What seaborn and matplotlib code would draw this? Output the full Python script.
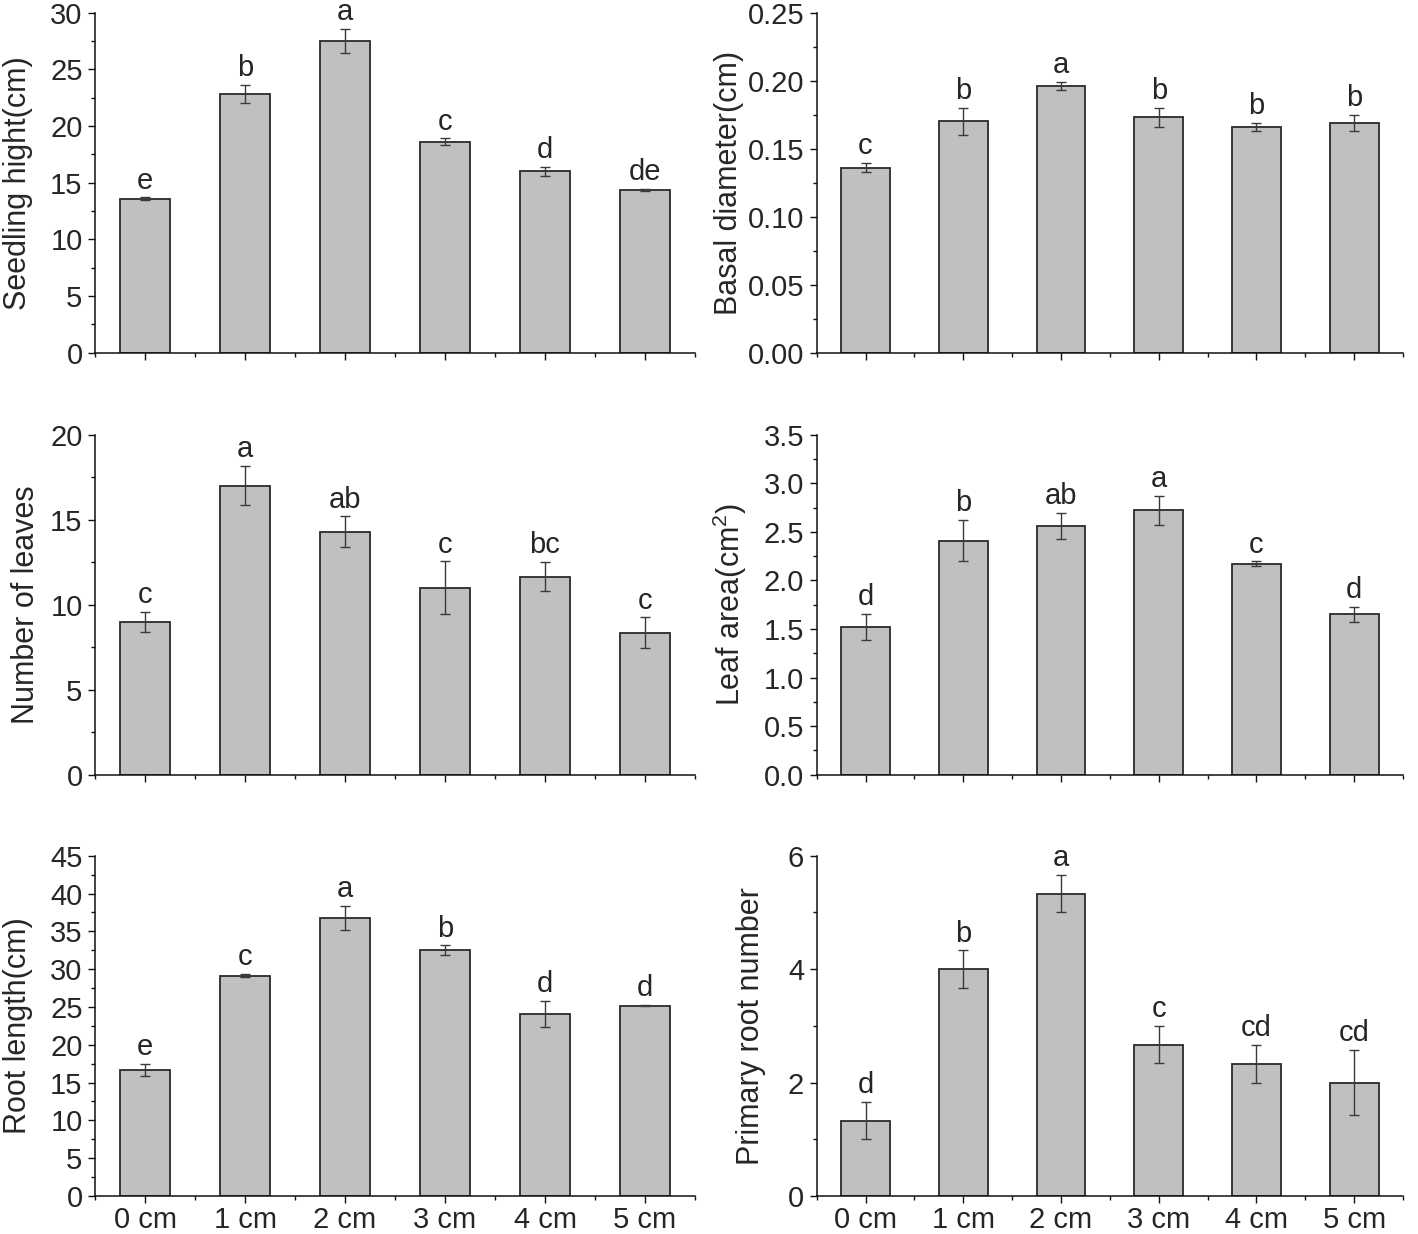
import numpy as np
import pandas as pd
import matplotlib
matplotlib.use("Agg")
import matplotlib.pyplot as plt
from matplotlib.ticker import MultipleLocator, FixedLocator
import seaborn as sns

# depth treatments
depths = ["0 cm", "1 cm", "2 cm", "3 cm", "4 cm", "5 cm"]

# seedling height
height_mean = [13.6, 22.8, 27.5, 18.6, 16.0, 14.35]
height_err = [0.1, 0.8, 1.05, 0.3, 0.4, 0.1]
height_sig = ["e", "b", "a", "c", "d", "de"]

# basal diameter
diam_mean = [0.136, 0.170, 0.196, 0.173, 0.166, 0.169]
diam_err = [0.0035, 0.010, 0.003, 0.007, 0.003, 0.006]
diam_sig = ["c", "b", "a", "b", "b", "b"]

# number of leaves
leaves_mean = [9.0, 17.0, 14.3, 11.0, 11.65, 8.35]
leaves_err = [0.58, 1.16, 0.89, 1.55, 0.85, 0.9]
leaves_sig = ["c", "a", "ab", "c", "bc", "c"]

# leaf area
area_mean = [1.52, 2.41, 2.56, 2.72, 2.17, 1.65]
area_err = [0.134, 0.21, 0.135, 0.147, 0.025, 0.077]
area_sig = ["d", "b", "ab", "a", "c", "d"]

# root length
root_mean = [16.66, 29.13, 36.76, 32.53, 24.07, 25.17]
root_err = [0.83, 0.2, 1.59, 0.6, 1.76, 0.1]
root_sig = ["e", "c", "a", "b", "d", "d"]

# primary root number
nroot_mean = [1.33, 4.0, 5.33, 2.67, 2.33, 2.0]
nroot_err = [0.33, 0.33, 0.33, 0.33, 0.33, 0.58]
nroot_sig = ["d", "b", "a", "c", "cd", "cd"]

sns.set_style("ticks")
plt.rcParams["font.family"] = ["Liberation Sans", "DejaVu Sans"]
plt.rcParams["mathtext.fontset"] = "custom"
plt.rcParams["mathtext.rm"] = "Liberation Sans"
plt.rcParams["mathtext.it"] = "Liberation Sans"

fig = plt.figure(figsize=(14.18, 12.34), dpi=100)

W, H = 1418.0, 1234.0
cols = [(95, 600), (816.7, 586.3)]
rows = [(12.7, 352.7), (434.7, 774.7), (855.7, 1196)]

panels = [
    (height_mean, height_err, height_sig, "Seedling hight(cm)", 30, 5, 2.5, "%d", -0.103),
    (diam_mean, diam_err, diam_sig, "Basal diameter(cm)", 0.25, 0.05, 0.025, "%.2f", -0.124),
    (leaves_mean, leaves_err, leaves_sig, "Number of leaves", 20, 5, 2.5, "%d", -0.09),
    (area_mean, area_err, area_sig, "Leaf area(cm$^{2}$)", 3.5, 0.5, 0.25, "%.1f", -0.115),
    (root_mean, root_err, root_sig, "Root length(cm)", 45, 5, 2.5, "%d", -0.103),
    (nroot_mean, nroot_err, nroot_sig, "Primary root number", 6, 2, 1, "%d", -0.086),
]

for i, (mean, err, sig, ylab, ytop, major, minor, fmt, labx) in enumerate(panels):
    r, c = divmod(i, 2)
    left, width = cols[c]
    top, bottom = rows[r]
    ax = fig.add_axes([left / W, 1 - bottom / H, width / W, (bottom - top) / H])

    df = pd.DataFrame({"depth": depths, "value": mean})
    sns.barplot(data=df, x="depth", y="value", ax=ax, color="#c0c0c0",
                saturation=1, width=0.5, edgecolor="#2a2a2a", linewidth=1.3,
                errorbar=None)
    xs = np.arange(len(depths))
    ax.errorbar(xs, mean, yerr=err, fmt="none", ecolor="#3a3a3a",
                elinewidth=1.0, capsize=3.5, capthick=1.0)
    for x, m, e, s in zip(xs, mean, err, sig):
        ax.annotate(s, (x, m + e), xytext=(0, 2), textcoords="offset points",
                    ha="center", va="bottom", fontsize=21)

    ax.set_xlim(-0.5, len(depths) - 0.5)
    ax.set_ylim(0, ytop)
    ax.yaxis.set_major_locator(MultipleLocator(major))
    ax.yaxis.set_minor_locator(MultipleLocator(minor))
    ax.yaxis.set_major_formatter(plt.FormatStrFormatter(fmt))
    ax.xaxis.set_minor_locator(FixedLocator(np.arange(-0.5, len(depths), 1.0)))

    sns.despine(ax=ax)
    for sp in ("left", "bottom"):
        ax.spines[sp].set_linewidth(1.1)
        ax.spines[sp].set_color("#111111")

    ax.tick_params(axis="both", which="major", direction="out", length=5,
                   width=1.0, color="#111111")
    ax.tick_params(axis="both", which="minor", direction="out", length=3,
                   width=1.0, color="#111111")
    ax.tick_params(axis="y", labelsize=21, pad=4)
    ax.tick_params(axis="x", labelsize=21, pad=2)

    ax.set_xlabel("")
    ax.set_ylabel(ylab, fontsize=22)
    ax.yaxis.set_label_coords(labx, 0.5)
    if r < 2:
        ax.set_xticklabels([])

fig.savefig("out.png", dpi=100)
